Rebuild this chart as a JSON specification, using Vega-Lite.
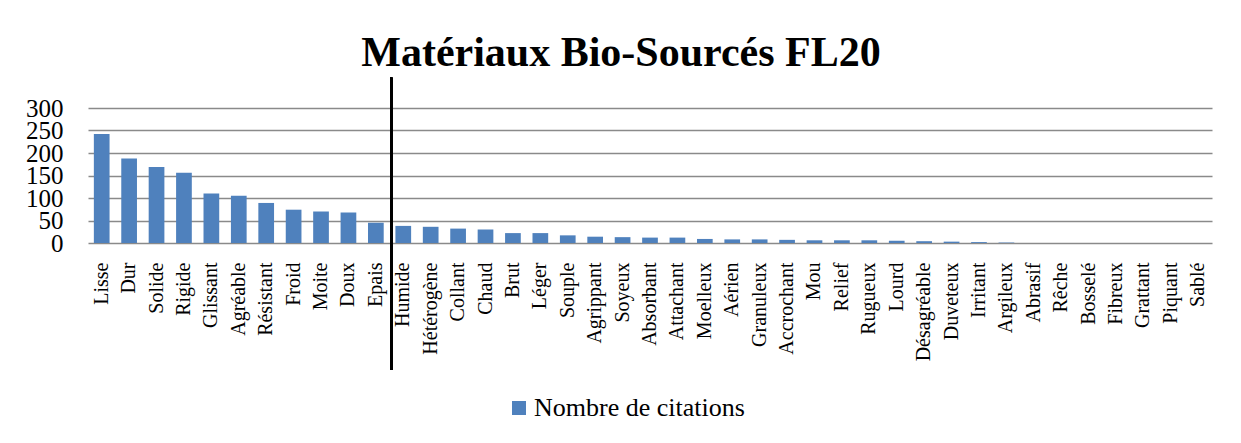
{
  "$schema": "https://vega.github.io/schema/vega-lite/v6.json",
  "autosize": {"type": "none"},
  "width": 1124,
  "height": 135,
  "padding": {"left": 88, "top": 108, "right": 29, "bottom": 200},
  "background": "white",
  "title": {
    "text": "Matériaux Bio-Sourcés FL20",
    "font": "Liberation Serif",
    "fontSize": 42,
    "fontWeight": "bold",
    "color": "black",
    "anchor": "middle",
    "dx": -29,
    "baseline": "alphabetic",
    "offset": -31
  },
  "data": {
    "values": [
      {"mot": "Lisse", "citations": 242},
      {"mot": "Dur", "citations": 188},
      {"mot": "Solide", "citations": 169},
      {"mot": "Rigide", "citations": 156},
      {"mot": "Glissant", "citations": 110},
      {"mot": "Agréable", "citations": 105},
      {"mot": "Résistant", "citations": 89},
      {"mot": "Froid", "citations": 74},
      {"mot": "Moite", "citations": 70},
      {"mot": "Doux", "citations": 68},
      {"mot": "Epais", "citations": 45},
      {"mot": "Humide", "citations": 38},
      {"mot": "Hétérogène", "citations": 36},
      {"mot": "Collant", "citations": 32},
      {"mot": "Chaud", "citations": 30},
      {"mot": "Brut", "citations": 22},
      {"mot": "Léger", "citations": 22},
      {"mot": "Souple", "citations": 17},
      {"mot": "Agrippant", "citations": 14},
      {"mot": "Soyeux", "citations": 13},
      {"mot": "Absorbant", "citations": 12},
      {"mot": "Attachant", "citations": 12},
      {"mot": "Moelleux", "citations": 9},
      {"mot": "Aérien", "citations": 8},
      {"mot": "Granuleux", "citations": 8},
      {"mot": "Accrochant", "citations": 7},
      {"mot": "Mou", "citations": 6},
      {"mot": "Relief", "citations": 6},
      {"mot": "Rugueux", "citations": 6},
      {"mot": "Lourd", "citations": 5},
      {"mot": "Désagréable", "citations": 4},
      {"mot": "Duveteux", "citations": 3},
      {"mot": "Irritant", "citations": 2},
      {"mot": "Argileux", "citations": 1},
      {"mot": "Abrasif", "citations": 0},
      {"mot": "Rêche", "citations": 0},
      {"mot": "Bosselé", "citations": 0},
      {"mot": "Fibreux", "citations": 0},
      {"mot": "Grattant", "citations": 0},
      {"mot": "Piquant", "citations": 0},
      {"mot": "Sablé", "citations": 0}
    ]
  },
  "layer": [
    {
      "mark": {"type": "bar"},
      "encoding": {
        "x": {
          "field": "mot",
          "type": "nominal",
          "sort": null,
          "scale": {"paddingInner": 0.427, "paddingOuter": 0.2135},
          "axis": {
            "title": null,
            "labelAngle": -90,
            "labelAlign": "right",
            "labelBaseline": "middle",
            "labelFont": "Liberation Serif",
            "labelFontSize": 20,
            "labelColor": "black",
            "labelPadding": 19,
            "labelOverlap": false,
            "labelLimit": 0,
            "ticks": false,
            "domain": false,
            "grid": false
          }
        },
        "y": {
          "field": "citations",
          "type": "quantitative",
          "scale": {"domain": [0, 300], "nice": false},
          "axis": {
            "title": null,
            "values": [0, 50, 100, 150, 200, 250, 300],
            "labelFont": "Liberation Serif",
            "labelFontSize": 25,
            "labelColor": "black",
            "labelPadding": 25,
            "labelOverlap": false,
            "labelFlush": false,
            "labelSeparation": 0,
            "ticks": false,
            "domain": false,
            "grid": true,
            "gridColor": "#8a8a8a",
            "gridWidth": 1.5,
            "gridOpacity": 1
          }
        },
        "color": {
          "datum": "Nombre de citations",
          "scale": {"range": ["#4F81BD"]},
          "legend": {
            "title": null,
            "orient": "none",
            "legendX": 418,
            "legendY": 287,
            "symbolType": "square",
            "symbolSize": 196,
            "symbolStrokeWidth": 0,
            "symbolOpacity": 1,
            "labelFont": "Liberation Serif",
            "labelFontSize": 26,
            "labelColor": "black",
            "labelOffset": 2,
            "labelLimit": 0
          }
        }
      }
    },
    {
      "mark": {"type": "rule", "color": "black", "strokeWidth": 2},
      "encoding": {
        "x": {
          "datum": "Humide",
          "bandPosition": -0.27,
          "axis": {
            "title": null,
            "labelAngle": -90,
            "labelAlign": "right",
            "labelBaseline": "middle",
            "labelFont": "Liberation Serif",
            "labelFontSize": 20,
            "labelColor": "black",
            "labelPadding": 19,
            "labelOverlap": false,
            "labelLimit": 0,
            "ticks": false,
            "domain": false,
            "grid": false
          }
        },
        "y": {
          "datum": 367,
          "axis": {
            "title": null,
            "values": [0, 50, 100, 150, 200, 250, 300],
            "labelFont": "Liberation Serif",
            "labelFontSize": 25,
            "labelColor": "black",
            "labelPadding": 25,
            "labelOverlap": false,
            "labelFlush": false,
            "labelSeparation": 0,
            "ticks": false,
            "domain": false,
            "grid": true,
            "gridColor": "#8a8a8a",
            "gridWidth": 1.5,
            "gridOpacity": 1
          }
        },
        "y2": {"datum": -281}
      }
    }
  ],
  "config": {
    "view": {"stroke": null}
  }
}
